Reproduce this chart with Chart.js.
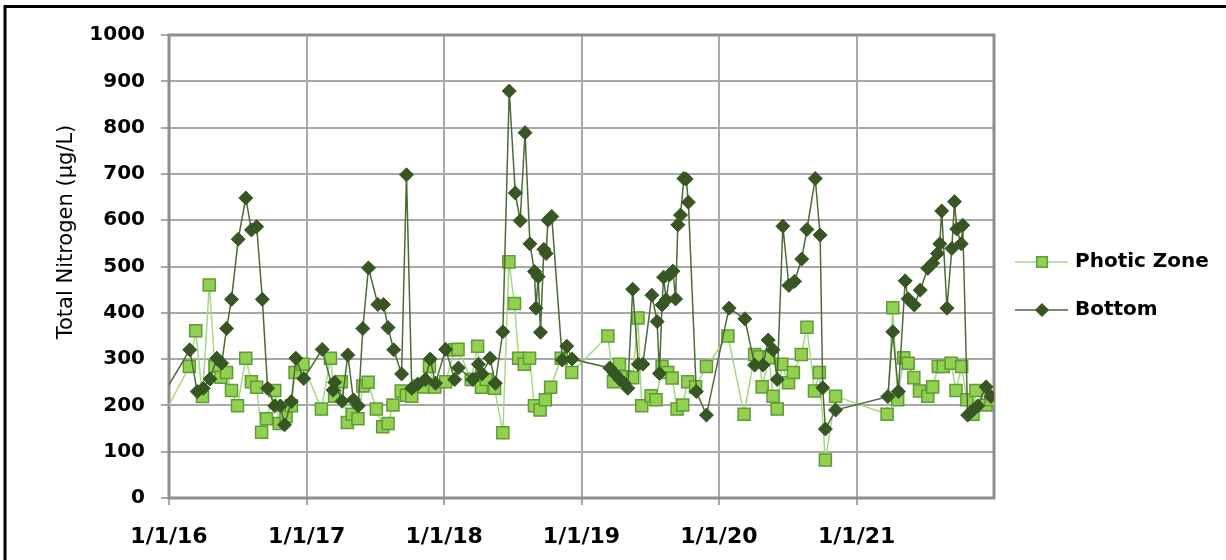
<!DOCTYPE html>
<html>
<head>
<meta charset="utf-8">
<title>Total Nitrogen</title>
<script src="https://cdn.jsdelivr.net/npm/chart.js@4.4.1/dist/chart.umd.min.js"></script>
<style>
  html, body { margin: 0; padding: 0; background: #fff; }
  #wrap { width: 1226px; height: 560px; position: relative; }
</style>
</head>
<body>
<div id="wrap"><canvas id="tnChart" width="1226" height="560"></canvas></div>
<script>
// sampling dates and values (µg/L)
const photicDates = [
  '2015-12-01', '2016-02-24', '2016-03-12', '2016-03-30', '2016-04-17', '2016-05-02', '2016-05-18',
  '2016-06-02', '2016-06-15', '2016-07-01', '2016-07-23', '2016-08-07', '2016-08-21', '2016-09-03',
  '2016-09-16', '2016-10-08', '2016-10-20', '2016-11-07', '2016-11-21', '2016-12-01', '2016-12-22',
  '2017-02-09', '2017-03-05', '2017-03-16', '2017-04-03', '2017-04-19', '2017-05-02', '2017-05-17',
  '2017-05-30', '2017-06-13', '2017-07-05', '2017-07-22', '2017-08-05', '2017-08-18', '2017-09-09',
  '2017-09-23', '2017-10-07', '2017-10-23', '2017-11-08', '2017-11-23', '2017-12-07',
  '2018-01-05', '2018-01-29', '2018-02-07', '2018-03-14', '2018-03-31', '2018-04-10', '2018-04-23',
  '2018-05-15', '2018-06-06', '2018-06-22', '2018-07-07', '2018-07-18', '2018-08-02', '2018-08-16',
  '2018-08-29', '2018-09-13', '2018-09-27', '2018-10-11', '2018-11-08', '2018-12-06',
  '2019-03-12', '2019-03-27', '2019-04-12', '2019-04-25', '2019-05-17', '2019-05-31', '2019-06-10',
  '2019-07-05', '2019-07-18', '2019-08-03', '2019-08-18', '2019-08-30', '2019-09-12', '2019-09-27',
  '2019-10-10', '2019-10-31', '2019-11-29',
  '2020-01-25', '2020-03-08', '2020-04-05', '2020-04-18', '2020-04-25', '2020-05-13', '2020-05-24',
  '2020-06-04', '2020-06-16', '2020-07-04', '2020-07-17', '2020-08-07', '2020-08-22', '2020-09-11',
  '2020-09-24', '2020-10-10', '2020-11-06',
  '2021-03-23', '2021-04-07', '2021-04-20', '2021-05-06', '2021-05-18', '2021-06-02', '2021-06-17',
  '2021-07-09', '2021-07-22', '2021-08-06', '2021-08-19', '2021-09-09', '2021-09-22', '2021-10-07',
  '2021-10-21', '2021-11-06', '2021-11-14', '2021-12-11', '2021-12-24'
];
const photicValues = [
  153, 284, 361, 219, 460, 284, 261,
  271, 232, 199, 302, 251, 239, 142,
  171, 232, 161, 176, 199, 271, 289,
  192, 302, 220, 251, 163, 181, 171,
  242, 250, 192, 154, 161, 201, 231,
  222, 220, 242, 240, 284, 240,
  251, 320, 321, 256, 328, 239, 256,
  237, 141, 510, 420, 302, 289, 302,
  199, 190, 212, 239, 302, 271,
  350, 251, 289, 262, 260, 389, 199,
  221, 212, 284, 271, 259, 192, 201,
  251, 240, 284,
  350, 181, 310, 305, 240, 303, 220,
  192, 289, 249, 271, 310, 369, 231,
  271, 82, 220,
  181, 411, 212, 303, 291, 260, 231,
  220, 240, 284, 284, 291, 232, 284,
  212, 181, 232, 201, 212
];

const bottomDates = [
  '2015-12-01', '2016-02-25', '2016-03-16', '2016-04-01', '2016-04-19', '2016-05-07', '2016-05-20',
  '2016-06-02', '2016-06-15', '2016-07-03', '2016-07-23', '2016-08-07', '2016-08-21', '2016-09-05',
  '2016-09-19', '2016-10-08', '2016-10-23', '2016-11-03', '2016-11-21', '2016-12-03', '2016-12-24',
  '2017-02-11', '2017-03-12', '2017-03-16', '2017-04-05', '2017-04-20', '2017-05-05', '2017-05-18',
  '2017-05-30', '2017-06-14', '2017-07-09', '2017-07-24', '2017-08-05', '2017-08-20', '2017-09-10',
  '2017-09-23', '2017-10-07', '2017-10-23', '2017-11-12', '2017-11-25', '2017-12-09',
  '2018-01-05', '2018-01-29', '2018-02-08', '2018-03-18', '2018-04-02', '2018-04-12', '2018-05-03',
  '2018-05-17', '2018-06-06', '2018-06-23', '2018-07-09', '2018-07-22', '2018-08-04', '2018-08-17',
  '2018-08-29', '2018-09-02', '2018-09-08', '2018-09-14', '2018-09-23', '2018-09-29', '2018-10-04',
  '2018-10-14', '2018-11-11', '2018-11-23', '2018-12-07',
  '2019-03-17', '2019-03-30', '2019-04-12', '2019-04-24', '2019-05-04', '2019-05-17', '2019-06-01',
  '2019-06-13', '2019-07-07', '2019-07-21', '2019-07-27', '2019-08-03', '2019-08-07', '2019-08-14',
  '2019-08-23', '2019-09-01', '2019-09-08', '2019-09-14', '2019-09-21', '2019-09-30', '2019-10-06',
  '2019-10-12', '2019-11-02', '2019-11-29',
  '2020-01-28', '2020-03-10', '2020-04-05', '2020-04-27', '2020-05-11', '2020-05-24', '2020-06-04',
  '2020-06-19', '2020-07-05', '2020-07-20', '2020-08-08', '2020-08-22', '2020-09-13', '2020-09-26',
  '2020-10-03', '2020-10-10', '2020-11-06',
  '2021-03-25', '2021-04-07', '2021-04-22', '2021-05-10', '2021-05-18', '2021-06-03', '2021-06-19',
  '2021-07-09', '2021-07-22', '2021-08-04', '2021-08-10', '2021-08-15', '2021-08-29', '2021-09-11',
  '2021-09-18', '2021-09-24', '2021-10-06', '2021-10-10', '2021-10-23', '2021-11-06', '2021-11-19',
  '2021-12-11', '2021-12-24'
];
const bottomValues = [
  202, 320, 230, 237, 257, 302, 291,
  366, 429, 559, 648, 579, 586, 429,
  237, 199, 199, 158, 208, 302, 258,
  321, 233, 250, 209, 309, 212, 199,
  366, 497, 418, 418, 368, 320, 268,
  698, 237, 246, 256, 300, 248,
  321, 256, 281, 256, 289, 268, 302,
  248, 359, 879, 659, 599, 789, 549,
  489, 410, 478, 358, 537, 528, 600,
  608, 298, 328, 300,
  281, 269, 257, 248, 237, 451, 289,
  289, 438, 381, 269, 417, 477, 428,
  482, 490, 430, 590, 611, 690, 689,
  639, 230, 179,
  410, 387, 287, 287, 341, 320, 256,
  587, 459, 468, 516, 580, 690, 568,
  238, 149, 190,
  219, 359, 230, 469, 430, 417, 449,
  496, 507, 528, 549, 620, 410, 539,
  640, 581, 549, 589, 179, 190, 199,
  240, 219
];

const tickYears = [2016, 2017, 2018, 2019, 2020, 2021];
const xTickLabels = ['1/1/16', '1/1/17', '1/1/18', '1/1/19', '1/1/20', '1/1/21'];
const yAxisTitle = 'Total Nitrogen (µg/L)';
const seriesNames = ['Photic Zone', 'Bottom'];

const FONT = 'DejaVu Sans';
const gridColor = '#a8a8a8';
const frameColor = '#8e8e8e';

const photicStyle = { line: '#a6d886', fill: '#92d050', border: '#5f9b36', pointStyle: 'rect', radius: 8.5 };
const bottomStyle = { line: '#4b6a36', fill: '#375623', border: '#375623', pointStyle: 'rectRot', radius: 7 };

function toPoints(dates, values) {
  return dates.map((d, i) => ({ x: Date.parse(d), y: values[i] }));
}

// grey box round the plot area
const plotFrame = {
  id: 'plotFrame',
  beforeDatasetsDraw(chart) {
    const { ctx, chartArea: a } = chart;
    ctx.save();
    ctx.strokeStyle = frameColor;
    ctx.lineWidth = 3;
    ctx.strokeRect(a.left, a.top, a.right - a.left, a.bottom - a.top);
    ctx.restore();
  }
};

// axis title, legend and the black outer edge
const extras = {
  id: 'extras',
  afterDraw(chart) {
    const ctx = chart.ctx;
    ctx.save();

    ctx.strokeStyle = '#000';
    ctx.lineWidth = 3;
    ctx.beginPath();
    ctx.moveTo(5, 560);
    ctx.lineTo(5, 6.5);
    ctx.lineTo(1226, 6.5);
    ctx.stroke();

    ctx.save();
    ctx.translate(67, 232);
    ctx.rotate(-Math.PI / 2);
    ctx.fillStyle = '#000';
    ctx.font = '21px "' + FONT + '"';
    ctx.textAlign = 'center';
    ctx.textBaseline = 'middle';
    ctx.fillText(yAxisTitle, 0, 0);
    ctx.restore();

    const rows = [
      { name: seriesNames[0], s: photicStyle, y: 262 },
      { name: seriesNames[1], s: bottomStyle, y: 310 }
    ];
    rows.forEach(r => {
      ctx.strokeStyle = r.s.line;
      ctx.lineWidth = 1.5;
      ctx.beginPath();
      ctx.moveTo(1015, r.y);
      ctx.lineTo(1068, r.y);
      ctx.stroke();
      ctx.fillStyle = r.s.fill;
      ctx.strokeStyle = r.s.border;
      ctx.lineWidth = 1.5;
      Chart.helpers.drawPoint(ctx, { pointStyle: r.s.pointStyle, radius: r.s.radius - 1, rotation: 0, borderWidth: 1.5 }, 1042, r.y);
      ctx.fillStyle = '#000';
      ctx.font = 'bold 20px "' + FONT + '"';
      ctx.textAlign = 'left';
      ctx.textBaseline = 'middle';
      ctx.fillText(r.name, 1075, r.y);
    });

    ctx.restore();
  }
};

const ctx = document.getElementById('tnChart').getContext('2d');
const tnChart = new Chart(ctx, {
  type: 'line',
  data: {
    datasets: [
      {
        label: seriesNames[0],
        data: toPoints(photicDates, photicValues),
        borderColor: photicStyle.line,
        borderWidth: 1.5,
        pointStyle: photicStyle.pointStyle,
        pointRadius: photicStyle.radius,
        pointBackgroundColor: photicStyle.fill,
        pointBorderColor: photicStyle.border,
        pointBorderWidth: 1.5,
        tension: 0,
        order: 1
      },
      {
        label: seriesNames[1],
        data: toPoints(bottomDates, bottomValues),
        borderColor: bottomStyle.line,
        borderWidth: 1.5,
        pointStyle: bottomStyle.pointStyle,
        pointRadius: bottomStyle.radius,
        pointBackgroundColor: bottomStyle.fill,
        pointBorderColor: bottomStyle.border,
        pointBorderWidth: 1,
        tension: 0,
        order: 0
      }
    ]
  },
  options: {
    responsive: false,
    animation: false,
    layout: { padding: { left: 0, top: 35, right: 232, bottom: 0 } },
    plugins: {
      legend: { display: false },
      tooltip: { enabled: false }
    },
    scales: {
      x: {
        type: 'linear',
        min: Date.UTC(2016, 0, 1),
        max: Date.UTC(2022, 0, 1),
        afterBuildTicks: scale => {
          scale.ticks = tickYears.map(y => ({ value: Date.UTC(y, 0, 1) }));
        },
        afterFit: scale => { scale.height = 62; },
        grid: { color: gridColor, lineWidth: 2, tickLength: 7 },
        border: { display: false },
        ticks: {
          autoSkip: false,
          maxRotation: 0,
          padding: 19,
          color: '#000',
          font: { family: FONT, size: 22, weight: 'bold' },
          callback: (value, index) => xTickLabels[index]
        }
      },
      y: {
        min: 0,
        max: 1000,
        afterFit: scale => { scale.width = 169; },
        grid: { color: gridColor, lineWidth: 2, tickLength: 8 },
        border: { display: false },
        ticks: {
          stepSize: 100,
          padding: 16,
          color: '#000',
          font: { family: FONT, size: 20, weight: 'bold' },
          callback: value => String(value)
        }
      }
    }
  },
  plugins: [plotFrame, extras]
});
</script>
</body>
</html>
